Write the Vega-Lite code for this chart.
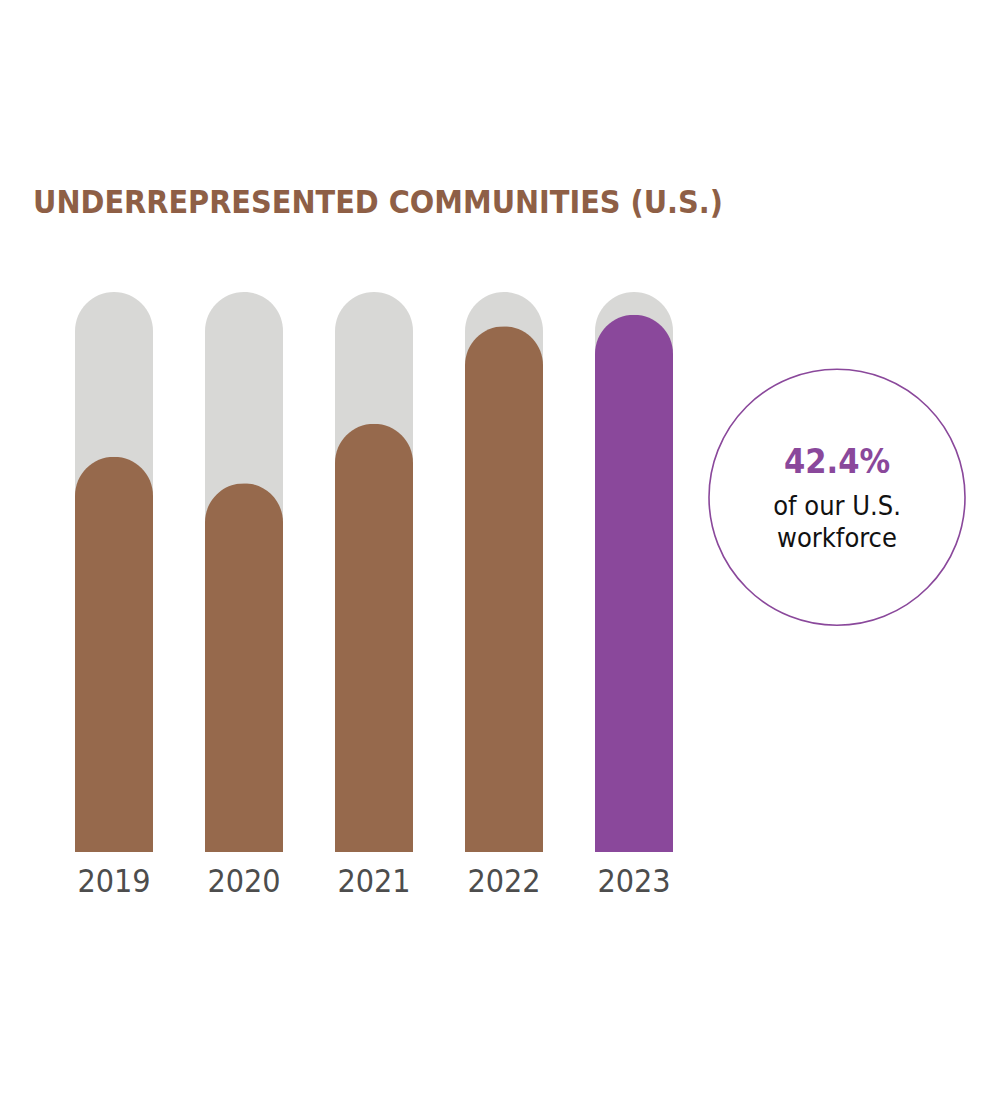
{
  "$schema": "https://vega.github.io/schema/vega-lite/v6.json",
  "width": 650,
  "height": 560,
  "autosize": {"type": "none"},
  "padding": {"left": 49, "top": 292, "right": 301, "bottom": 248},
  "background": "white",
  "title": {
    "text": "UNDERREPRESENTED COMMUNITIES (U.S.)",
    "anchor": "start",
    "frame": "group",
    "font": "DejaVu Sans Condensed",
    "fontSize": 32,
    "fontWeight": "bold",
    "color": "#8E5F46",
    "baseline": "alphabetic",
    "offset": 47,
    "dx": -16
  },
  "data": {
    "values": [
      {"year": "2019", "value": 31.2, "max": 44.2},
      {"year": "2020", "value": 29.1, "max": 44.2},
      {"year": "2021", "value": 33.8, "max": 44.2},
      {"year": "2022", "value": 41.5, "max": 44.2},
      {"year": "2023", "value": 42.4, "max": 44.2}
    ]
  },
  "encoding": {
    "x": {
      "field": "year",
      "type": "nominal",
      "scale": {"paddingInner": 0.4, "paddingOuter": 0.2},
      "axis": {
        "title": null,
        "domain": false,
        "ticks": false,
        "labelAngle": 0,
        "labelFont": "DejaVu Sans Condensed",
        "labelFontSize": 32,
        "labelColor": "#4D4D4D",
        "labelPadding": 14
      }
    }
  },
  "layer": [
    {
      "mark": {"type": "bar", "color": "#D8D8D6", "cornerRadiusTopLeft": 39, "cornerRadiusTopRight": 39},
      "encoding": {
        "y": {"field": "max", "type": "quantitative", "scale": {"domain": [0, 44.2], "nice": false, "zero": true}, "axis": null}
      }
    },
    {
      "mark": {"type": "bar", "cornerRadiusTopLeft": 39, "cornerRadiusTopRight": 39},
      "encoding": {
        "y": {"field": "value", "type": "quantitative"},
        "color": {
          "field": "year",
          "type": "nominal",
          "scale": {"domain": ["2019", "2020", "2021", "2022", "2023"], "range": ["#96694C", "#96694C", "#96694C", "#96694C", "#8A489B"]},
          "legend": null
        }
      }
    },
    {
      "data": {"values": [{"year": "2023"}]},
      "mark": {"type": "point", "shape": "circle", "size": 65536, "filled": false, "stroke": "#8A489B", "strokeWidth": 1.6, "xOffset": 203, "opacity": 1},
      "encoding": {
        "x": {"field": "year", "type": "nominal"},
        "y": {"datum": 28, "type": "quantitative"}
      }
    },
    {
      "data": {"values": [{"year": "2023", "headline": "42.4%"}]},
      "mark": {"type": "text", "font": "DejaVu Sans Condensed", "fontSize": 34, "fontWeight": "bold", "color": "#8A489B", "dx": 203, "dy": -34, "baseline": "middle", "align": "center"},
      "encoding": {
        "x": {"field": "year", "type": "nominal"},
        "y": {"datum": 28, "type": "quantitative"},
        "text": {"field": "headline"}
      }
    },
    {
      "data": {"values": [{"year": "2023", "line": ["of our U.S.", "workforce"]}]},
      "mark": {"type": "text", "font": "DejaVu Sans Condensed", "fontSize": 27, "color": "#111111", "dx": 203, "dy": 10, "baseline": "middle", "align": "center", "lineHeight": 32},
      "encoding": {
        "x": {"field": "year", "type": "nominal"},
        "y": {"datum": 28, "type": "quantitative"},
        "text": {"field": "line"}
      }
    }
  ],
  "config": {"view": {"stroke": null}}
}
